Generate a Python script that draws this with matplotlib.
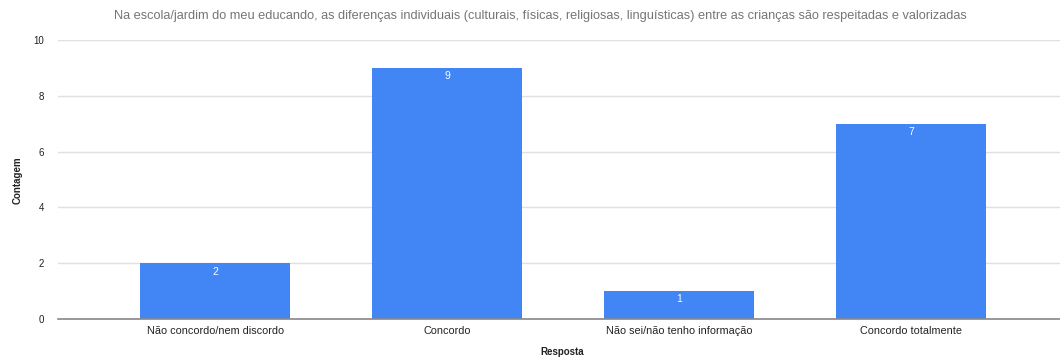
import matplotlib.pyplot as plt

categorias = ["Não concordo/nem discordo", "Concordo", "Não sei/não tenho informação", "Concordo totalmente"]
contagem = [2, 9, 1, 7]
yticks = [0, 2, 4, 6, 8, 10]

titulo = ("Na escola/jardim do meu educando, as diferenças individuais (culturais, físicas, "
          "religiosas, linguísticas) entre as crianças são respeitadas e valorizadas")

plt.rcParams['font.family'] = ['Liberation Sans', 'DejaVu Sans']

fig = plt.figure(figsize=(10.6, 3.6), dpi=100)
ax = fig.add_axes([58 / 1060, 1 - 319 / 360, 1 - 58 / 1060, (319 - 40) / 360])

x = range(len(categorias))
bars = ax.bar(x, contagem, width=0.647, color='#4285F4', zorder=2)

for b, v in zip(bars, contagem):
    ax.text(b.get_x() + b.get_width() / 2, v - 0.12, str(v), ha='center', va='top',
            color='white', fontsize=7.5)

ax.set_xlim(-0.677, 3.642)
ax.set_ylim(0, 10)
ax.set_yticks(yticks)
ax.set_xticks(list(x))
ax.set_xticklabels(categorias, fontsize=7.8, color='#222222')
ax.tick_params(axis='y', labelsize=7, colors='#222222', length=0, pad=10)
ax.tick_params(axis='x', length=0, pad=5)

ax.grid(axis='y', color='#e0e0e0', linewidth=1, zorder=0)
for s in ['top', 'right', 'left']:
    ax.spines[s].set_visible(False)
ax.spines['bottom'].set_color('#888888')
ax.spines['bottom'].set_linewidth(1.2)
ax.spines['bottom'].set_zorder(3)

fig.text(18 / 1060, 1 - 180 / 360, "Contagem", rotation=90, ha='center', va='center',
         fontsize=7, fontweight='bold', color='#222222')
fig.text(562 / 1060, 1 - 352 / 360, "Resposta", ha='center', va='center',
         fontsize=7, fontweight='bold', color='#222222')
fig.text(540 / 1060, 1 - 16 / 360, titulo, ha='center', va='center',
         fontsize=9.2, color='#757575')

fig.savefig("out.png", dpi=100)
